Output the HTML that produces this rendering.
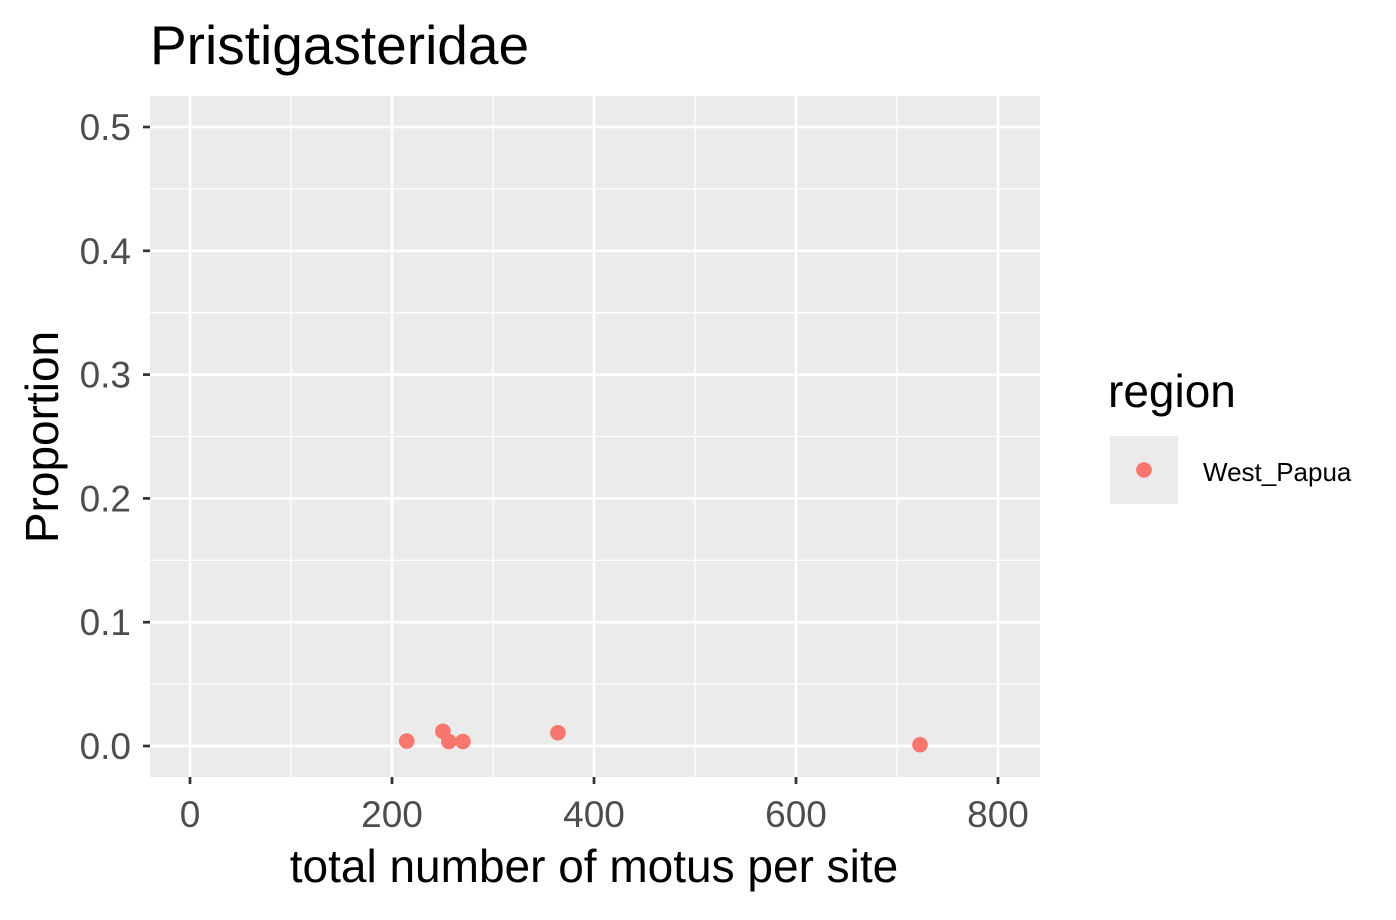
<!DOCTYPE html>
<html><head><meta charset="utf-8"><style>
body{margin:0;background:#fff;}
svg text{font-family:"Liberation Sans",Arial,sans-serif;}
</style></head><body>
<svg id="chart" width="1396" height="915" xmlns="http://www.w3.org/2000/svg">
<text x="150" y="64" font-size="55" fill="#000">Pristigasteridae</text>
<rect x="150" y="96" width="890" height="681" fill="#ebebeb"/>
<g id="grid"></g><g id="ticks"></g><g id="points"></g>
<text x="594" y="882" font-size="46" text-anchor="middle" fill="#000">total number of motus per site</text>
<text transform="translate(58,437) rotate(-90)" font-size="46" text-anchor="middle" fill="#000">Proportion</text>
<text x="1108" y="407" font-size="46" fill="#000">region</text>
<rect x="1110" y="436" width="68" height="68" fill="#ebebeb"/>
<circle cx="1144" cy="470" r="7.8" fill="#f8766d"/>
<text x="1203" y="481" font-size="26" fill="#000">West_Papua</text>
</svg>
<script>
const xTicks=[0,200,400,600,800];
const yTicks=[0,0.1,0.2,0.3,0.4,0.5];
const yTickLabels=["0.0","0.1","0.2","0.3","0.4","0.5"];
const xValues=[214.6,250.4,256.3,270.2,364.3,722.8];
const yValues=[0.004,0.0119,0.0036,0.0036,0.0107,0.001];
const X=v=>190+v*1.0100;
const Y=v=>746-v*1238;
const ns="http://www.w3.org/2000/svg";
function mk(t,a,p){const e=document.createElementNS(ns,t);for(const k in a)e.setAttribute(k,a[k]);p.appendChild(e);return e;}
const grid=document.getElementById('grid'),ticks=document.getElementById('ticks'),pts=document.getElementById('points');
for(let i=0;i<xTicks.length-1;i++){const m=(xTicks[i]+xTicks[i+1])/2;
const l=mk('line',{x1:X(m),x2:X(m),y1:96,y2:777,stroke:'#fff','stroke-width':1.3},grid);

}
for(let i=0;i<yTicks.length-1;i++){const m=(yTicks[i]+yTicks[i+1])/2;
const l=mk('line',{x1:150,x2:1040,y1:Y(m),y2:Y(m),stroke:'#fff','stroke-width':1.3},grid);

}
xTicks.forEach(v=>{
const l=mk('line',{x1:X(v),x2:X(v),y1:96,y2:777,stroke:'#fff','stroke-width':2.7},grid);


const t=mk('line',{x1:X(v),x2:X(v),y1:777,y2:784,stroke:'#333','stroke-width':2.7},ticks);


const s=mk('text',{x:X(v),y:827,'font-size':37,fill:'#4d4d4d','text-anchor':'middle'},ticks);s.textContent=v;

});
yTicks.forEach((v,i)=>{
const l=mk('line',{x1:150,x2:1040,y1:Y(v),y2:Y(v),stroke:'#fff','stroke-width':2.7},grid);


const t=mk('line',{x1:143,x2:150,y1:Y(v),y2:Y(v),stroke:'#333','stroke-width':2.7},ticks);


const s=mk('text',{x:131,y:Y(v)+13,'font-size':37,fill:'#4d4d4d','text-anchor':'end'},ticks);s.textContent=yTickLabels[i];

});
xValues.forEach((v,i)=>{
const c=mk('circle',{cx:X(v),cy:Y(yValues[i]),r:7.8,fill:'#f8766d'},pts);

});
</script>
</body></html>
